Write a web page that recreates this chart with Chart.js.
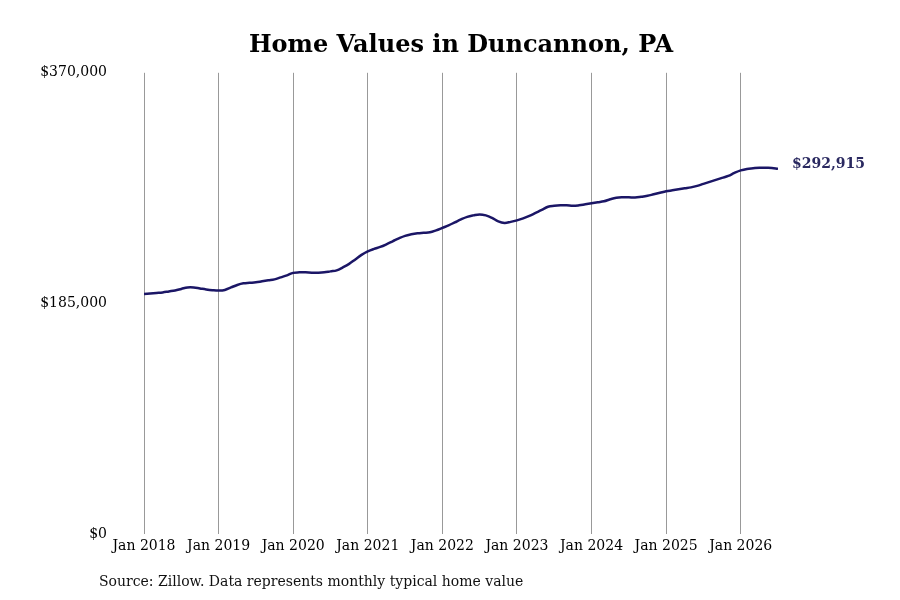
<!DOCTYPE html>
<html>
<head>
<meta charset="utf-8">
<script src="https://cdn.jsdelivr.net/npm/chart.js@4/dist/chart.umd.min.js"></script>
<style>
  body { margin: 0; background: #fff; }
  #wrap { width: 900px; height: 600px; }
</style>
</head>
<body>
<div id="wrap"><canvas id="homeChart" width="900" height="600"></canvas></div>
<script>
// monthly typical home value, Jan 2018 .. Jul 2026
var months = [];
var homeValues = [
    192600, 193000, 193400, 193800, 194600, 195400, 196600, 197800, 197800, 197000, 196200, 195600,
    195300, 195800, 197800, 199800, 201100, 201500, 201900, 202700, 203500, 204300, 205900, 207500,
    209500, 209900, 209900, 209600, 209600, 209900, 210700, 211500, 213900, 216700, 220300, 223900,
    226700, 228700, 230300, 232400, 234800, 237200, 239200, 240400, 241200, 241600, 242000, 243600,
    245600, 247600, 250000, 252400, 254400, 255600, 256400, 255600, 253600, 250800, 249600, 250400,
    251600, 253200, 255200, 257600, 260000, 262500, 263300, 263700, 263700, 263300, 263700, 264500,
    265300, 266100, 266900, 268500, 269700, 270100, 270100, 269900, 270500, 271300, 272500, 273700,
    274900, 275700, 276500, 277300, 278100, 279300, 280900, 282500, 284100, 285700, 287300, 289700,
    291700, 292900, 293400, 293800, 293800, 293700, 292915
];
var xTickLabels = ['Jan 2018', 'Jan 2019', 'Jan 2020', 'Jan 2021', 'Jan 2022',
                   'Jan 2023', 'Jan 2024', 'Jan 2025', 'Jan 2026'];
var yTickValues = [0, 185000, 370000];
var endLabel = '$292,915';
var sourceText = 'Source: Zillow. Data represents monthly typical home value';

homeValues.forEach(function(v, i) {
    months.push(i);
});

var points = homeValues.map(function(v, i) {
    return { x: months[i], y: v };
});

var serif = "'DejaVu Serif', serif";

var extraText = {
    id: 'extraText',
    afterDraw: function(chart) {
        var ctx = chart.ctx;
        var meta = chart.getDatasetMeta(0);
        var last = meta.data[meta.data.length - 1];
        ctx.save();
        ctx.font = "bold 14px " + serif;
        ctx.fillStyle = '#2a2960';
        ctx.textAlign = 'left';
        ctx.textBaseline = 'middle';
        ctx.fillText(endLabel, last.x + 14, last.y - 5);

        ctx.font = "14px " + serif;
        ctx.fillStyle = '#111';
        ctx.fillText(sourceText, 99, 582);
        ctx.restore();
    }
};

var ctx = document.getElementById('homeChart').getContext('2d');
var homeChart = new Chart(ctx, {
    type: 'line',
    data: {
        datasets: [
            {
                data: points,
                borderColor: '#1b1666',
                borderWidth: 2.5,
                pointRadius: 0,
                tension: 0.4,
                fill: false
            }
        ]
    },
    options: {
        responsive: false,
        animation: false,
        layout: {
            padding: { left: 0, right: 122, top: 0, bottom: 36 }
        },
        plugins: {
            legend: { display: false },
            tooltip: { enabled: false },
            title: {
                display: true,
                text: 'Home Values in Duncannon, PA',
                fullSize: false,
                color: '#000',
                font: { family: serif, size: 24, weight: 'bold' },
                padding: { top: 31, bottom: 13 }
            }
        },
        scales: {
            x: {
                type: 'linear',
                min: 0,
                max: homeValues.length - 1,
                afterBuildTicks: function(scale) {
                    scale.ticks = xTickLabels.map(function(l, i) {
                        return { value: i * 12 };
                    });
                },
                afterFit: function(scale) {
                    scale.height = 30;
                },
                ticks: {
                    color: '#000',
                    font: { family: serif, size: 14 },
                    padding: 4,
                    maxRotation: 0,
                    autoSkip: false,
                    callback: function(value) {
                        return xTickLabels[value / 12];
                    }
                },
                grid: {
                    display: true,
                    color: '#999',
                    lineWidth: 1,
                    drawTicks: false
                },
                border: { display: false }
            },
            y: {
                min: 0,
                max: 370000,
                afterBuildTicks: function(scale) {
                    scale.ticks = yTickValues.map(function(v) {
                        return { value: v };
                    });
                },
                afterFit: function(scale) {
                    scale.width = 144;
                },
                ticks: {
                    color: '#000',
                    font: { family: serif, size: 14 },
                    padding: 29,
                    callback: function(value) {
                        return '$' + value.toLocaleString('en-US');
                    }
                },
                grid: { display: false },
                border: { display: false }
            }
        }
    },
    plugins: [extraText]
});
</script>
</body>
</html>
